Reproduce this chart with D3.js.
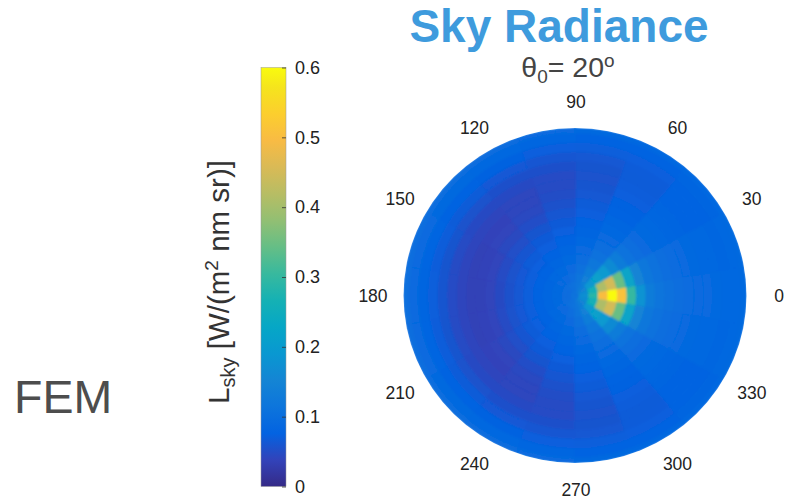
<!DOCTYPE html>
<html>
<head>
<meta charset="utf-8">
<script src="https://cdn.jsdelivr.net/npm/d3@7/dist/d3.min.js"></script>
<style>
  body { margin: 0; background: #fff; }
  text { font-family: "Liberation Sans", Arial, Helvetica, sans-serif; }
</style>
</head>
<body>
<div id="main"></div>
<script>
// sky radiance L_sky [W/(m2 nm sr)], solar zenith 20 deg, sun at azimuth 0
// one array per zenith ring (ring centre in degrees), values at azimuth 0,20,...,340
var zenith = [0, 5, 10, 15, 20, 25, 30, 35, 40, 45, 50, 55, 60, 65, 70, 75, 80, 85, 90];
var azimuth = d3.range(0, 360, 20);

var ring00 = [.112,.112,.112,.112,.112,.112,.112,.112,.112,.112,.112,.112,.112,.112,.112,.112,.112,.112];
var ring05 = [.180,.165,.148,.130,.116,.108,.103,.100,.098,.097,.098,.100,.103,.108,.116,.130,.148,.165];
var ring10 = [.290,.260,.190,.140,.112,.100,.094,.091,.089,.088,.089,.091,.094,.100,.112,.140,.190,.260];
var ring15 = [.500,.410,.210,.134,.105,.094,.088,.085,.083,.082,.083,.085,.088,.094,.105,.134,.210,.410];
var ring20 = [.600,.450,.195,.120,.098,.089,.083,.079,.077,.076,.077,.079,.083,.089,.098,.120,.195,.450];
var ring25 = [.510,.345,.162,.108,.092,.083,.078,.073,.071,.070,.071,.073,.078,.083,.092,.108,.162,.345];
var ring30 = [.300,.220,.128,.099,.087,.078,.072,.067,.064,.063,.064,.067,.072,.078,.087,.099,.128,.220];
var ring35 = [.180,.150,.110,.092,.081,.073,.066,.060,.056,.055,.056,.060,.066,.073,.081,.092,.110,.150];
var ring40 = [.130,.118,.099,.086,.076,.066,.058,.052,.048,.046,.048,.052,.058,.066,.076,.086,.099,.118];
var ring45 = [.115,.108,.094,.082,.072,.061,.051,.044,.040,.039,.040,.044,.051,.061,.072,.082,.094,.108];
var ring50 = [.105,.100,.089,.078,.067,.055,.045,.040,.037,.036,.037,.040,.045,.055,.067,.078,.089,.100];
var ring55 = [.100,.095,.085,.075,.063,.050,.042,.038,.036,.036,.036,.038,.042,.050,.063,.075,.085,.095];
var ring60 = [.095,.091,.083,.072,.059,.048,.042,.041,.041,.041,.041,.041,.042,.048,.059,.072,.083,.091];
var ring65 = [.092,.089,.081,.069,.057,.049,.047,.047,.048,.049,.048,.047,.047,.049,.057,.069,.081,.089];
var ring70 = [.090,.087,.078,.067,.058,.054,.054,.056,.058,.059,.058,.056,.054,.054,.058,.067,.078,.087];
var ring75 = [.088,.085,.077,.068,.063,.062,.064,.067,.069,.070,.069,.067,.064,.062,.063,.068,.077,.085];
var ring80 = [.086,.083,.078,.072,.070,.072,.075,.078,.080,.081,.080,.078,.075,.072,.070,.072,.078,.083];
var ring85 = [.086,.085,.081,.078,.079,.082,.086,.089,.091,.091,.091,.089,.086,.082,.079,.078,.081,.085];
var ring90 = [.089,.088,.087,.086,.089,.093,.097,.099,.100,.101,.100,.099,.097,.093,.089,.086,.087,.088];

var rings = [ring00, ring05, ring10, ring15, ring20, ring25, ring30, ring35, ring40, ring45,
             ring50, ring55, ring60, ring65, ring70, ring75, ring80, ring85, ring90];

var angleTicks = d3.range(0, 360, 30);
var colorTicks = [0, 0.1, 0.2, 0.3, 0.4, 0.5, 0.6];

// parula, sampled from the 64 entry table
var parulaIdx = [0, 4, 8, 12, 16, 20, 24, 28, 32, 36, 40, 44, 48, 52, 56, 60, 63];
var parula = ["rgb(53,42,135)", "rgb(50,67,186)", "rgb(3,99,225)", "rgb(13,117,220)", "rgb(20,133,212)",
              "rgb(9,152,209)", "rgb(6,167,198)", "rgb(21,177,180)", "rgb(56,185,158)", "rgb(101,190,134)",
              "rgb(146,191,115)", "rgb(183,189,100)", "rgb(217,186,86)", "rgb(248,187,68)", "rgb(252,206,46)",
              "rgb(245,228,29)", "rgb(249,251,14)"];

var width = 790, height = 499;
var cmin = 0, cmax = 0.6;

var svg = d3.select("#main").append("svg")
    .attr("width", width)
    .attr("height", height);

var colorScale = d3.scaleLinear()
    .domain(parulaIdx.map(d => cmin + (cmax - cmin) * d / 63))
    .range(parula)
    .interpolate(d3.interpolateRgb)
    .clamp(true);

// ---- polar plot
var cx = 575, cy = 295.5, rx = 171.5, ry = 167.5;
var rScale = d3.scaleLinear().domain([0, 90]).range([0, rx]);
var halfRing = 2.5, halfSector = 10;

var cells = [];
rings.forEach((row, i) => {
    row.forEach((v, j) => {
        cells.push({z: zenith[i], phi: azimuth[j], value: v});
    });
});

var arc = d3.arc()
    .innerRadius(d => rScale(Math.max(0, d.z - halfRing)))
    .outerRadius(d => rScale(Math.min(90, d.z + halfRing)))
    .startAngle(d => (90 - d.phi - halfSector) * Math.PI / 180)
    .endAngle(d => (90 - d.phi + halfSector) * Math.PI / 180);

var defs = svg.append("defs");
defs.append("filter").attr("id", "soft")
    .attr("x", "-5%").attr("y", "-5%").attr("width", "110%").attr("height", "110%")
    .append("feGaussianBlur").attr("stdDeviation", 1.2);
defs.append("clipPath").attr("id", "diskClip")
    .append("circle").attr("r", rScale(90));

var disk = svg.append("g")
    .attr("transform", "translate(" + cx + "," + cy + ") scale(1," + (ry / rx) + ")")
    .attr("clip-path", "url(#diskClip)");

disk.append("g")
    .attr("filter", "url(#soft)")
    .selectAll("path")
    .data(cells)
    .enter()
    .append("path")
    .attr("d", arc)
    .attr("fill", d => colorScale(d.value))
    .attr("stroke", d => colorScale(d.value))
    .attr("stroke-width", 1.6)
    .attr("stroke-linejoin", "round");

var labelRx = 203, labelRy = 194;
svg.append("g")
    .selectAll("text")
    .data(angleTicks)
    .enter()
    .append("text")
    .attr("x", d => cx + 1 + labelRx * Math.cos(d * Math.PI / 180))
    .attr("y", d => cy - labelRy * Math.sin(d * Math.PI / 180))
    .attr("text-anchor", "middle")
    .attr("dy", "0.35em")
    .attr("font-size", 17.5)
    .attr("fill", "#222")
    .text(d => d);

// ---- colorbar
var barX = 261, barW = 25, barTop = 67.5, barBottom = 486.5;
var cbScale = d3.scaleLinear().domain([cmin, cmax]).range([barBottom, barTop]);

var grad = defs.append("linearGradient")
    .attr("id", "parula")
    .attr("x1", 0).attr("y1", 1).attr("x2", 0).attr("y2", 0);
grad.selectAll("stop")
    .data(parula)
    .enter()
    .append("stop")
    .attr("offset", (d, i) => parulaIdx[i] / 63)
    .attr("stop-color", d => d);

svg.append("rect")
    .attr("x", barX)
    .attr("y", barTop)
    .attr("width", barW)
    .attr("height", barBottom - barTop)
    .attr("fill", "url(#parula)")
    .attr("stroke", "#999")
    .attr("stroke-width", 0.5);

var cbAxis = d3.axisRight(cbScale)
    .tickValues(colorTicks)
    .tickFormat(d3.format("~g"))
    .tickSizeInner(-4)
    .tickSizeOuter(0)
    .tickPadding(9);

var cbAxisG = svg.append("g")
    .attr("transform", "translate(" + (barX + barW) + ",0)")
    .call(cbAxis);
cbAxisG.select(".domain").remove();
cbAxisG.selectAll("line").attr("stroke", "#333").attr("stroke-width", 0.8);
cbAxisG.selectAll("text")
    .attr("font-size", 18)
    .attr("fill", "#222")
    .style("font-family", "'Liberation Sans', Arial, sans-serif");

var yLabel = svg.append("text")
    .attr("transform", "translate(229," + ((barTop + barBottom) / 2 + 5) + ") rotate(-90)")
    .attr("text-anchor", "middle")
    .attr("font-size", 29.5)
    .attr("fill", "#333");
yLabel.append("tspan").text("L");
yLabel.append("tspan").attr("font-size", 20).attr("dy", 6).text("sky");
yLabel.append("tspan").attr("dy", -6).text(" [W/(m");
yLabel.append("tspan").attr("font-size", 19).attr("dy", -11).text("2");
yLabel.append("tspan").attr("dy", 11).text(" nm sr)]");

// ---- titles
svg.append("text")
    .attr("x", 559)
    .attr("y", 42)
    .attr("text-anchor", "middle")
    .attr("font-size", 46)
    .attr("font-weight", "bold")
    .attr("fill", "#3e9bdd")
    .text("Sky Radiance");

var sub = svg.append("text")
    .attr("x", 568)
    .attr("y", 77)
    .attr("text-anchor", "middle")
    .attr("font-size", 28.5)
    .attr("fill", "#444");
sub.append("tspan").text("θ");
sub.append("tspan").attr("font-size", 19).attr("dy", 6).text("0");
sub.append("tspan").attr("dy", -6).text("= 20");
sub.append("tspan").attr("font-size", 19).attr("dy", -10).text("o");

svg.append("text")
    .attr("x", 14)
    .attr("y", 413)
    .attr("font-size", 46.5)
    .attr("fill", "#4d4d4d")
    .text("FEM");
</script>
</body>
</html>
